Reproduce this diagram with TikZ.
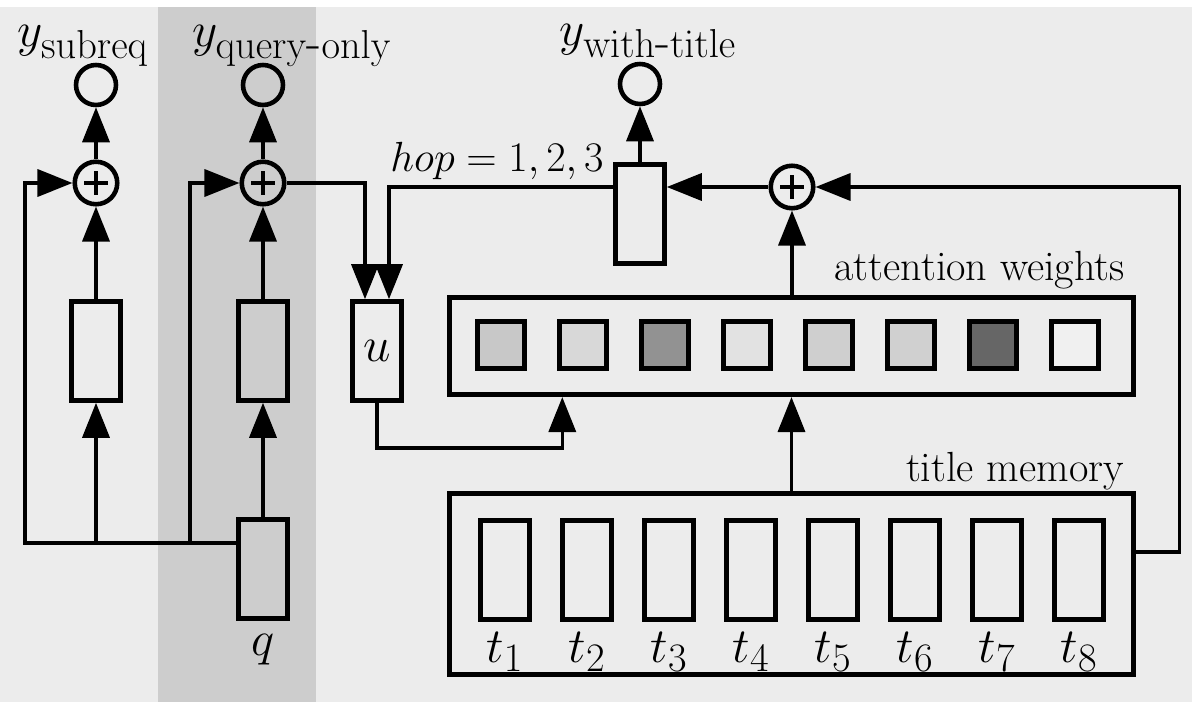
\RequirePackage{fix-cm}
\documentclass[tikz,border=0pt]{standalone}
\usepackage{xcolor}
\usetikzlibrary{arrows.meta,calc}

\DeclareMathSizes{28}{28}{23}{17}

\definecolor{bggray}{HTML}{ECECEC}
\definecolor{bandgray}{HTML}{CDCDCD}
\definecolor{wA}{HTML}{C8C8C8}
\definecolor{wB}{HTML}{D8D8D8}
\definecolor{wC}{HTML}{929292}
\definecolor{wD}{HTML}{E2E2E2}
\definecolor{wE}{HTML}{CFCFCF}
\definecolor{wF}{HTML}{D0D0D0}
\definecolor{wG}{HTML}{666666}
\definecolor{wH}{HTML}{F0F0F0}

\begin{document}
\begin{tikzpicture}[x=0.02cm,y=-0.02cm,
    box/.style={draw,line width=2.6pt,minimum width=0.98cm,minimum height=1.98cm,inner sep=0pt},
    outc/.style={draw,circle,line width=2.6pt,minimum size=0.8cm,inner sep=0pt},
    addc/.style={draw,circle,line width=2.6pt,minimum size=0.85cm,inner sep=0pt,
        path picture={\draw[line width=2pt] (path picture bounding box.center)
            +(-0.24cm,0pt) -- +(0.24cm,0pt) +(0pt,-0.24cm) -- +(0pt,0.24cm);}},
    wsq/.style={draw,line width=2.6pt,minimum width=0.94cm,minimum height=0.94cm,inner sep=0pt},
    panel/.style={draw,line width=2.6pt,minimum width=13.68cm,inner sep=0pt},
    arr/.style={line width=2pt,-{Triangle[length=0.7cm,width=0.54cm]}},
    ylbl/.style={font=\fontsize{28}{34}\selectfont,anchor=base},
    sym/.style={font=\fontsize{28}{34}\selectfont},
    lbl/.style={font=\fontsize{24}{29}\selectfont}]

    % Background and shaded band
    \useasboundingbox (0,0) rectangle (1192,702);
    \fill[white] (0,0) rectangle (1192,702);
    \fill[bggray] (0,7) rectangle (1192,702);
    \fill[bandgray] (158,7) rectangle (316,702);

    % Outputs
    \node[outc] (out1) at (96,85) {};
    \node[outc] (out2) at (263,85) {};
    \node[outc] (out3) at (640,84) {};
    \node[ylbl] (ysub) at (83,47) {$y_{\mathrm{subreq}}$};
    \node[ylbl] (yqry) at (292,47) {$y_{\mathrm{query\mbox{-}only}}$};
    \node[ylbl] (ytit) at (648,46) {$y_{\mathrm{with\mbox{-}title}}$};

    % Sums
    \node[addc] (plus1) at (96,183) {};
    \node[addc] (plus2) at (263,183) {};
    \node[addc] (plus3) at (792,187) {};

    % Query side
    \node[box] (box1) at (96,351) {};
    \node[box] (box2) at (263,351) {};
    \node[box] (q) at (263,569) {};
    \node[sym] (qlbl) at (263,650) {$q$};
    \node[box,sym] (u) at (377,351) {$u$};
    \node[box] (hop) at (640,214) {};
    \node[lbl,anchor=base] (hoplbl) at (497,172) {$hop=1,2,3$};

    % Attention weights
    \node[panel,minimum height=1.95cm] (att) at (791.5,346) {};
    \node[lbl,anchor=base east] (attlbl) at (1131,280) {attention weights};
    \node[wsq,fill=wA] (w1) at (501,345) {};
    \node[wsq,fill=wB] (w2) at (583,345) {};
    \node[wsq,fill=wC] (w3) at (665,345) {};
    \node[wsq,fill=wD] (w4) at (747,345) {};
    \node[wsq,fill=wE] (w5) at (829,345) {};
    \node[wsq,fill=wF] (w6) at (911,345) {};
    \node[wsq,fill=wG] (w7) at (993,345) {};
    \node[wsq,fill=wH] (w8) at (1075,345) {};

    % Title memory
    \node[panel,minimum height=3.63cm] (mem) at (791.5,584) {};
    \node[lbl,anchor=base east] (memlbl) at (1130,481) {title memory};
    \node[box] (m1) at (505,570) {};
    \node[box] (m2) at (587,570) {};
    \node[box] (m3) at (669,570) {};
    \node[box] (m4) at (751,570) {};
    \node[box] (m5) at (833,570) {};
    \node[box] (m6) at (915,570) {};
    \node[box] (m7) at (997,570) {};
    \node[box] (m8) at (1079,570) {};
    \node[sym] (t1) at (505,652) {$t_1$};
    \node[sym] (t2) at (587,652) {$t_2$};
    \node[sym] (t3) at (669,652) {$t_3$};
    \node[sym] (t4) at (751,652) {$t_4$};
    \node[sym] (t5) at (833,652) {$t_5$};
    \node[sym] (t6) at (915,652) {$t_6$};
    \node[sym] (t7) at (997,652) {$t_7$};
    \node[sym] (t8) at (1079,652) {$t_8$};

    % Query connections
    \coordinate (qtap) at ($(q.north west)+(0,26)$);
    \draw[arr] (qtap) -- ++(-211,0) |- (plus1.west);
    \draw[arr] (box1.south |- qtap) -- (box1.south);
    \draw[arr] ($(qtap)+(-46,0)$) |- (plus2.west);
    \draw[arr] (q) -- (box2);
    \draw[arr] (box1) -- (plus1);
    \draw[arr] (box2) -- (plus2);
    \draw[arr] (plus1) -- (out1);
    \draw[arr] (plus2) -- (out2);

    % Hops
    \draw[arr] (plus2.east) -| ($(u.north)+(-12,0)$);
    \draw[arr] (hop.west |- plus3) -| ($(u.north)+(12,0)$);
    \draw[arr] (plus3) -- (hop.east |- plus3);
    \draw[arr] (hop) -- (out3);
    \draw[arr] (plus3 |- att.north) -- (plus3);
    \draw[arr] (mem) -- (att);
    \draw[arr] (u.south) -- ++(0,45) -| ($(att.south west)+(115,0)$);
    \draw[arr] ($(mem.east)+(0,-32)$) -- ++(44,0) |- (plus3.east);
\end{tikzpicture}
\end{document}
